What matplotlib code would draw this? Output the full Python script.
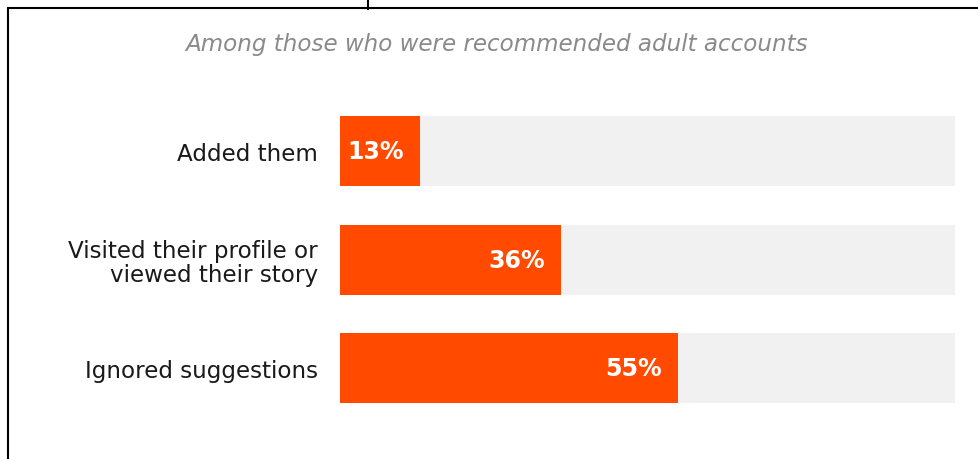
import matplotlib
matplotlib.use("Agg")
import matplotlib.pyplot as plt
from matplotlib.lines import Line2D

# Survey responses
categories = ["Added them", "Visited their profile or\nviewed their story", "Ignored suggestions"]
values = [13, 36, 55]
value_labels = ["13%", "36%", "55%"]
full_scale = 100
subtitle = "Among those who were recommended adult accounts"

ORANGE = "#FF4A00"
TRACK = "#F1F1F1"
W, H = 979, 460

plt.rcParams["font.family"] = ["DejaVu Sans"]

fig = plt.figure(figsize=(W / 100, H / 100), dpi=100)
fig.patch.set_facecolor("white")

# Axes placed in pixel terms: bars span x 340..955
ax = fig.add_axes([340 / W, (H - 423.25) / H, 615 / W, 325.5 / H])
ypos = list(range(len(categories)))
bar_h = 70 / 108.5

ax.barh(ypos, [full_scale] * len(values), height=bar_h, color=TRACK, zorder=1)
ax.barh(ypos, values, height=bar_h, color=ORANGE, zorder=2)

for y, v, lab in zip(ypos, values, value_labels):
    ax.annotate(lab, xy=(v, y), xytext=(-11.5, 0), textcoords="offset points",
                ha="right", va="center", color="white", fontsize=17,
                fontweight="bold", zorder=3)

ax.set_xlim(0, full_scale)
ax.set_ylim(len(categories) - 0.5, -0.5)
ax.set_yticks(ypos, labels=categories)
ax.tick_params(axis="y", length=0, pad=15.8, labelsize=16.6, colors="#1a1a1a")
for t in ax.get_yticklabels():
    t.set_horizontalalignment("right")
    t.set_multialignment("right")
    t.set_linespacing(1.06)
ax.set_xticks([])
for s in ax.spines.values():
    s.set_visible(False)
ax.set_facecolor("none")

# Subtitle
fig.text(497 / W, 1 - 44 / H, subtitle, ha="center", va="center",
         fontsize=16.6, fontstyle="italic", color="#8A8A8A")

# Frame lines (left edge, top edge, small tick at top)
def px_line(xs, ys):
    fig.add_artist(Line2D([x / W for x in xs], [1 - y / H for y in ys],
                          transform=fig.transFigure, color="black",
                          linewidth=1.5, solid_capstyle="butt"))

px_line([7.7, 7.7], [9, H])
px_line([7, W], [9, 9])
px_line([368, 368], [0, 11])

fig.savefig("out.png", dpi=100, facecolor="white")
